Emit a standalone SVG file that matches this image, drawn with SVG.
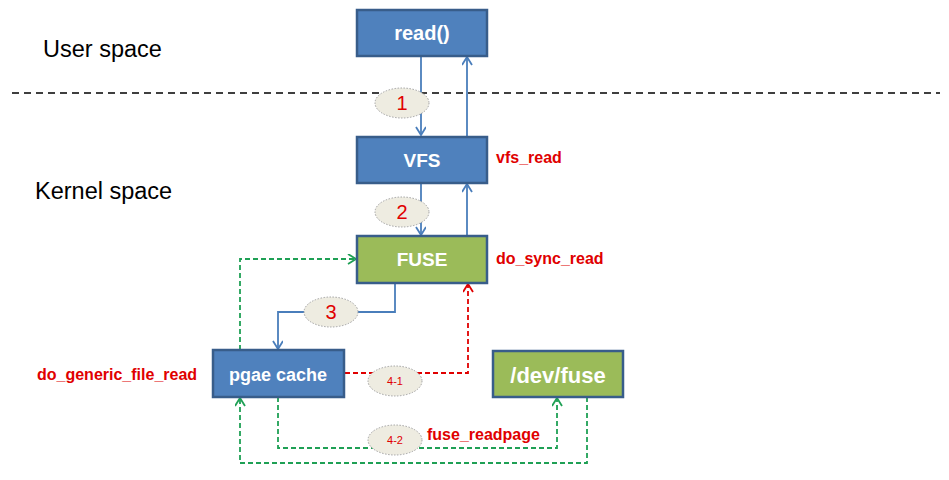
<svg xmlns="http://www.w3.org/2000/svg" width="949" height="480" viewBox="0 0 949 480">
<defs>
<style>
.box{stroke:#385D8A;stroke-width:2.5}
.blue{fill:#4F81BD}
.green{fill:#9BBB59}
.lbl{font-family:"Liberation Sans",Arial,sans-serif;font-weight:bold;fill:#fff;text-anchor:middle}
.side{font-family:"Liberation Sans",Arial,sans-serif;font-size:23.5px;fill:#000}
.fn{font-family:"Liberation Sans",Arial,sans-serif;font-weight:bold;font-size:16px;fill:#E00000}
.ell{fill:#EEECE1;stroke:#A0A0A0;stroke-width:1;stroke-dasharray:1.5 1.5}
.num{font-family:"Liberation Sans",Arial,sans-serif;font-size:20px;fill:#E00000;text-anchor:middle}
.snum{font-family:"Liberation Sans",Arial,sans-serif;font-size:11px;fill:#E00000;text-anchor:middle}
.bl{fill:none;stroke:#4A7EBB;stroke-width:1.8;marker-end:url(#ab)}
.gr{fill:none;stroke:#1FA055;stroke-width:1.8;stroke-dasharray:5 3;marker-end:url(#ag)}
.rd{fill:none;stroke:#E00000;stroke-width:1.8;stroke-dasharray:5 3;marker-end:url(#ar)}
</style>
<marker id="ab" markerWidth="12" markerHeight="12" refX="9" refY="5" orient="auto" markerUnits="userSpaceOnUse"><path d="M1,0 L9,5 L1,10" fill="none" stroke="#4A7EBB" stroke-width="1.8"/></marker>
<marker id="ag" markerWidth="12" markerHeight="12" refX="9" refY="5" orient="auto" markerUnits="userSpaceOnUse"><path d="M1,0 L9,5 L1,10" fill="none" stroke="#1FA055" stroke-width="1.8"/></marker>
<marker id="ar" markerWidth="12" markerHeight="12" refX="9" refY="5" orient="auto" markerUnits="userSpaceOnUse"><path d="M1,0 L9,5 L1,10" fill="none" stroke="#E00000" stroke-width="1.8"/></marker>
</defs>
<rect width="949" height="480" fill="#fff"/>
<text class="side" x="43" y="57">User space</text>
<text class="side" x="35" y="199">Kernel space</text>
<line x1="12" y1="93" x2="940" y2="93" stroke="#000" stroke-width="1.5" stroke-dasharray="7 5"/>
<g id="connectors">
<path class="bl" d="M421,56 V135"/>
<path class="bl" d="M467,136 V57"/>
<path class="bl" d="M421,183 V235"/>
<path class="bl" d="M467,236 V184"/>
<path class="bl" d="M395,283 V312 H278 V349"/>
<path class="gr" d="M240,350 V259 H356"/>
<path class="rd" d="M345,373 H468 V284"/>
<path class="gr" d="M278,397 V448 H557 V398"/>
<path class="gr" d="M587,397 V463 H240 V398"/>
<ellipse class="ell" cx="402" cy="103" rx="27" ry="15"/>
<text class="num" x="402" y="110">1</text>
<ellipse class="ell" cx="402" cy="212" rx="27" ry="15"/>
<text class="num" x="402" y="219">2</text>
<ellipse class="ell" cx="331" cy="312" rx="27" ry="15"/>
<text class="num" x="331" y="319">3</text>
<ellipse class="ell" cx="395" cy="381" rx="27" ry="15"/>
<text class="snum" x="395" y="385">4-1</text>
<ellipse class="ell" cx="395" cy="440" rx="27" ry="15"/>
<text class="snum" x="395" y="444">4-2</text>
</g>
<g id="read"><rect class="box blue" x="357" y="10" width="130" height="46"/><text class="lbl" x="422" y="40" font-size="20">read()</text></g>
<g id="vfs"><rect class="box blue" x="357" y="137" width="130" height="46"/><text class="lbl" x="422" y="167" font-size="19">VFS</text><text class="fn" x="496" y="163">vfs_read</text></g>
<g id="fuse"><rect class="box green" x="357" y="236" width="130" height="47"/><text class="lbl" x="422" y="266" font-size="19">FUSE</text><text class="fn" x="496" y="264">do_sync_read</text></g>
<g id="pgcache"><rect class="box blue" x="213" y="350" width="131" height="47"/><text class="lbl" x="278" y="381" font-size="18">pgae cache</text><text class="fn" x="37" y="380">do_generic_file_read</text></g>
<g id="devfuse"><rect class="box green" x="493" y="351" width="130" height="46"/><text class="lbl" x="558" y="383" font-size="22">/dev/fuse</text><text class="fn" x="427" y="440">fuse_readpage</text></g>
</svg>
